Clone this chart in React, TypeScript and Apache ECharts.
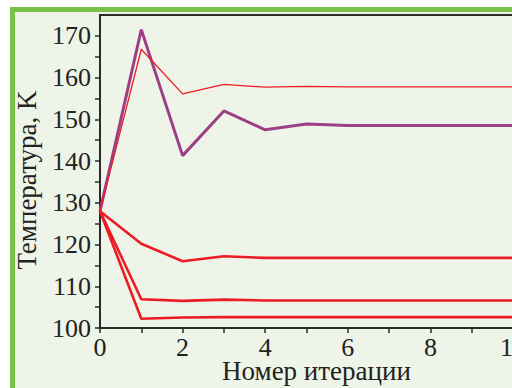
import React, { useEffect, useRef } from "react";
import * as echarts from "echarts";

const iterations = [0, 1, 2, 3, 4, 5, 6, 7, 8, 9, 10];
const purpleSeries = [128, 171.5, 141.3, 152.0, 147.5, 148.9, 148.5, 148.5, 148.5, 148.5, 148.5];
const thinRedSeries = [128, 166.8, 156.1, 158.4, 157.7, 157.9, 157.8, 157.8, 157.8, 157.8, 157.8];
const redSeries1 = [128, 120.2, 116.0, 117.2, 116.8, 116.8, 116.8, 116.8, 116.8, 116.8, 116.8];
const redSeries2 = [128, 106.9, 106.5, 106.8, 106.6, 106.6, 106.6, 106.6, 106.6, 106.6, 106.6];
const redSeries3 = [128, 102.2, 102.5, 102.6, 102.6, 102.6, 102.6, 102.6, 102.6, 102.6, 102.6];

const xTitle = "Номер итерации";
const yTitle = "Температура, K";

const RED = "#ec1c24";
const PURPLE = "#9c3f86";
const FONT = "Liberation Serif";

function pairs(vals: number[]) {
  return vals.map((v, i) => [iterations[i], v]);
}

export default function App() {
  const ref = useRef<HTMLDivElement>(null);
  useEffect(() => {
    if (!ref.current) return;
    const chart = echarts.init(ref.current, null, { renderer: "svg" });
    chart.setOption({
      animation: false,
      backgroundColor: "#ffffff",
      graphic: [
        { type: "rect", z: -10, shape: { x: 10, y: 7, width: 600, height: 500 }, style: { fill: "#79c046" } },
        { type: "rect", z: -9, shape: { x: 15, y: 12, width: 600, height: 500 }, style: { fill: "#eef4e8" } },
      ],
      grid: {
        left: 100,
        top: 15,
        right: -1,
        bottom: 60,
        outerBoundsMode: "none",
        containLabel: false,
        show: true,
        borderColor: "#2a2a2a",
        borderWidth: 2,
        backgroundColor: "transparent",
      },
      xAxis: {
        type: "value",
        min: 0,
        max: 10,
        interval: 1,
        name: xTitle,
        nameLocation: "middle",
        nameGap: 32,
        nameMoveOverlap: false,
        nameTextStyle: { fontFamily: FONT, fontSize: 27, lineHeight: 22, color: "#222", padding: [0, 0, 0, 20] },
        axisLine: { show: true, lineStyle: { color: "#2a2a2a", width: 2 } },
        axisTick: { show: true, inside: false, length: 5, lineStyle: { color: "#2a2a2a", width: 1.5 } },
        axisLabel: {
          fontFamily: FONT,
          fontSize: 26,
          lineHeight: 20,
          color: "#222",
          margin: 9,
          formatter: (v: number) => (v % 2 === 0 ? String(v) : ""),
        },
        splitLine: { show: false },
      },
      yAxis: {
        type: "value",
        min: 100,
        max: 175,
        interval: 5,
        name: yTitle,
        nameLocation: "middle",
        nameGap: 60,
        nameMoveOverlap: false,
        nameTextStyle: { fontFamily: FONT, fontSize: 27, color: "#222", padding: [0, 17, 0, 0] },
        axisLine: { show: true, lineStyle: { color: "#2a2a2a", width: 2 } },
        axisTick: { show: true, inside: false, length: 5, lineStyle: { color: "#2a2a2a", width: 1.5 } },
        axisLabel: {
          fontFamily: FONT,
          fontSize: 26,
          color: "#222",
          margin: 9,
          showMaxLabel: false,
          formatter: (v: number) => (v % 10 === 0 ? String(v) : ""),
        },
        splitLine: { show: false },
      },
      series: [
        { type: "line", data: pairs(redSeries3), showSymbol: false, lineStyle: { color: RED, width: 2.6 }, z: 3 },
        { type: "line", data: pairs(redSeries2), showSymbol: false, lineStyle: { color: RED, width: 2.6 }, z: 3 },
        { type: "line", data: pairs(redSeries1), showSymbol: false, lineStyle: { color: RED, width: 2.6 }, z: 3 },
        { type: "line", data: pairs(purpleSeries), showSymbol: false, lineStyle: { color: PURPLE, width: 3 }, z: 4 },
        { type: "line", data: pairs(thinRedSeries), showSymbol: false, lineStyle: { color: RED, width: 1.3 }, z: 5 },
      ],
    });
    return () => chart.dispose();
  }, []);
  return (
    <div
      ref={ref}
      style={{ position: "fixed", left: 0, top: 0, width: 512, height: 388 }}
    />
  );
}
